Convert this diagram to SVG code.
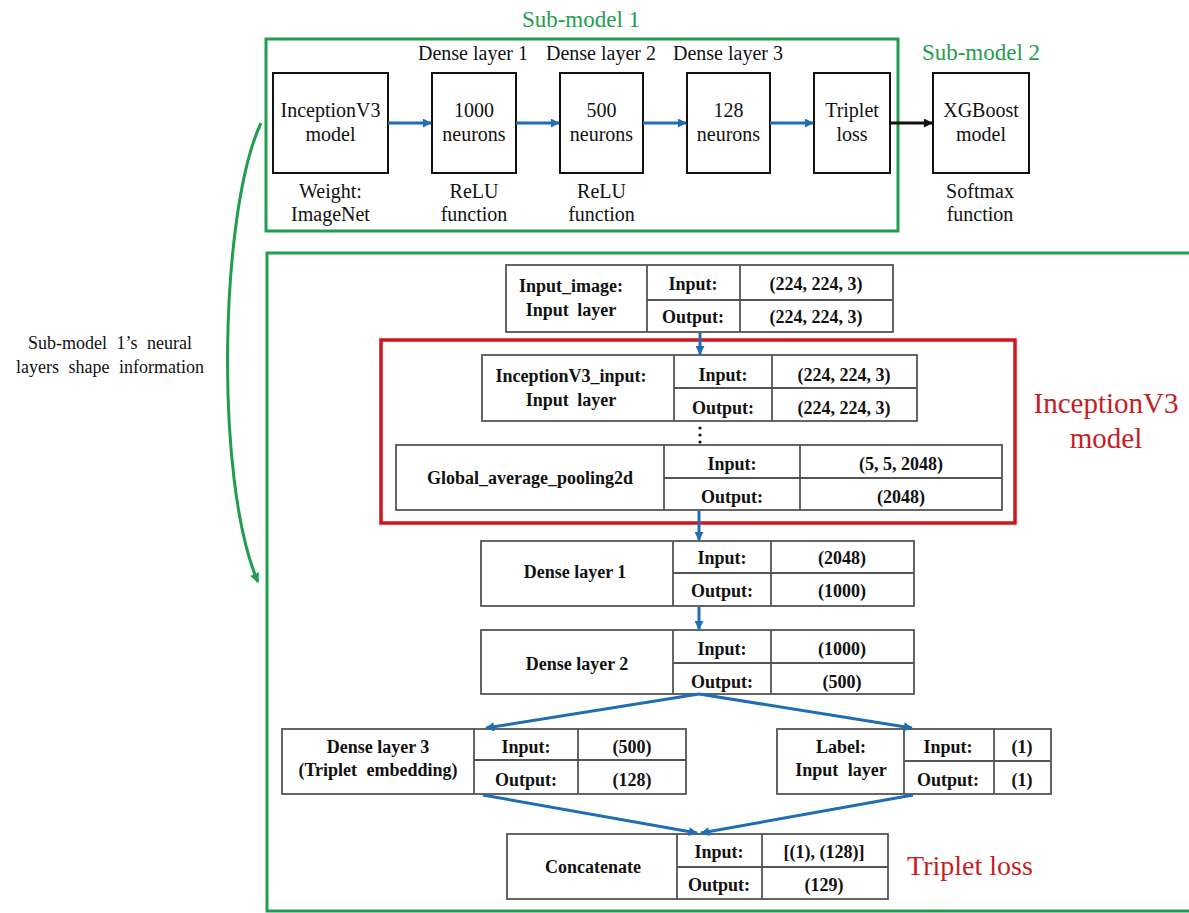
<svg xmlns="http://www.w3.org/2000/svg" width="1189" height="913" viewBox="0 0 1189 913">
<defs>
<style>
.serif{font-family:"Liberation Serif","Times New Roman",serif;}
.g{fill:#1f9e4f;}
.r{fill:#c41e24;}
.box{fill:#fff;stroke:#111;stroke-width:2;}
.tbl{fill:#fff;stroke:#555;stroke-width:1.8;}
.tl{stroke:#555;stroke-width:1.8;}
.t20{font-size:20px;fill:#111;text-anchor:middle;}
.tb{font-size:18px;font-weight:bold;fill:#111;text-anchor:middle;}
.blue{stroke:#1f6db4;stroke-width:3;fill:none;}
</style>
<marker id="ab" viewBox="0 0 10 10" refX="9" refY="5" markerWidth="3.4" markerHeight="3" orient="auto" markerUnits="strokeWidth"><path d="M0,0 L10,5 L0,10 z" fill="#1f6db4"/></marker>
<marker id="ak" viewBox="0 0 10 10" refX="9" refY="5" markerWidth="3.4" markerHeight="3" orient="auto" markerUnits="strokeWidth"><path d="M0,0 L10,5 L0,10 z" fill="#111"/></marker>
<marker id="ag" viewBox="0 0 10 10" refX="9" refY="5" markerWidth="3.6" markerHeight="3.2" orient="auto" markerUnits="strokeWidth"><path d="M0,0 L10,5 L0,10 z" fill="#1f9e4f"/></marker>
</defs>
<rect width="1189" height="913" fill="#fff"/>

<g id="submodel1-frame">
<rect x="266" y="39" width="632" height="192" fill="none" stroke="#1f9e4f" stroke-width="3"/>
<text class="serif g" x="581" y="27" font-size="23" text-anchor="middle">Sub-model 1</text>
</g>
<text class="serif g" x="981" y="60" font-size="23" text-anchor="middle">Sub-model 2</text>

<g id="node-inception" class="serif">
<rect class="box" x="273" y="73" width="115" height="100"/>
<text class="t20" x="330.5" y="117">InceptionV3</text>
<text class="t20" x="330.5" y="141">model</text>
<text class="t20" x="330.5" y="198">Weight:</text>
<text class="t20" x="330.5" y="221">ImageNet</text>
</g>
<g id="node-dense1" class="serif">
<text class="t20" x="473" y="60">Dense layer 1</text>
<rect class="box" x="432" y="73" width="84" height="100"/>
<text class="t20" x="474" y="117">1000</text>
<text class="t20" x="474" y="141">neurons</text>
<text class="t20" x="474" y="198">ReLU</text>
<text class="t20" x="474" y="221">function</text>
</g>
<g id="node-dense2" class="serif">
<text class="t20" x="601" y="60">Dense layer 2</text>
<rect class="box" x="560" y="73" width="83" height="100"/>
<text class="t20" x="601.5" y="117">500</text>
<text class="t20" x="601.5" y="141">neurons</text>
<text class="t20" x="601.5" y="198">ReLU</text>
<text class="t20" x="601.5" y="221">function</text>
</g>
<g id="node-dense3" class="serif">
<text class="t20" x="728" y="60">Dense layer 3</text>
<rect class="box" x="687" y="73" width="83" height="100"/>
<text class="t20" x="728.5" y="117">128</text>
<text class="t20" x="728.5" y="141">neurons</text>
</g>
<g id="node-triplet" class="serif">
<rect class="box" x="814" y="73" width="76" height="100"/>
<text class="t20" x="852" y="117">Triplet</text>
<text class="t20" x="852" y="141">loss</text>
</g>
<g id="node-xgboost" class="serif">
<rect class="box" x="933" y="73" width="96" height="100"/>
<text class="t20" x="981" y="117">XGBoost</text>
<text class="t20" x="981" y="141">model</text>
<text class="t20" x="980" y="198">Softmax</text>
<text class="t20" x="980" y="221">function</text>
</g>

<g id="detail-frame">
<rect x="267" y="253" width="940" height="658" fill="none" stroke="#1f9e4f" stroke-width="3"/>
</g>

<g id="annotation" class="serif">
<text x="110" y="349" font-size="18" fill="#111" text-anchor="middle" word-spacing="5">Sub-model 1’s neural</text>
<text x="110" y="373" font-size="18" fill="#111" text-anchor="middle" word-spacing="5">layers shape information</text>
</g>

<g id="inception-group">
<rect x="381" y="340" width="634" height="183" fill="none" stroke="#d0161c" stroke-width="3.5"/>
<text class="serif r" x="1106" y="413" font-size="29" text-anchor="middle">InceptionV3</text>
<text class="serif r" x="1106" y="448" font-size="29" text-anchor="middle">model</text>
</g>

<g id="tbl-input-image" class="serif">
<rect class="tbl" x="506" y="265" width="387" height="67"/>
<line class="tl" x1="647" y1="265" x2="647" y2="332"/>
<line class="tl" x1="740" y1="265" x2="740" y2="332"/>
<line class="tl" x1="647" y1="300" x2="893" y2="300"/>
<text class="tb" x="571" y="292">Input_image:</text>
<text class="tb" x="571" y="316" word-spacing="4">Input layer</text>
<text class="tb" x="693" y="290">Input:</text>
<text class="tb" x="693" y="323">Output:</text>
<text class="tb" x="816" y="290" font-weight="normal">(224, 224, 3)</text>
<text class="tb" x="816" y="323" font-weight="normal">(224, 224, 3)</text>
</g>

<g id="tbl-inception-input" class="serif">
<rect class="tbl" x="482" y="355" width="435" height="66"/>
<line class="tl" x1="674" y1="355" x2="674" y2="421"/>
<line class="tl" x1="772" y1="355" x2="772" y2="421"/>
<line class="tl" x1="674" y1="388" x2="917" y2="388"/>
<text class="tb" x="571" y="382">InceptionV3_input:</text>
<text class="tb" x="571" y="406" word-spacing="4">Input layer</text>
<text class="tb" x="723" y="381">Input:</text>
<text class="tb" x="723" y="414">Output:</text>
<text class="tb" x="844" y="381" font-weight="normal">(224, 224, 3)</text>
<text class="tb" x="844" y="414" font-weight="normal">(224, 224, 3)</text>
</g>

<g id="ellipsis" fill="#111">
<circle cx="700" cy="428" r="1.6"/>
<circle cx="700" cy="435" r="1.6"/>
<circle cx="700" cy="442" r="1.6"/>
</g>

<g id="tbl-gap" class="serif">
<rect class="tbl" x="396" y="445" width="606" height="65"/>
<line class="tl" x1="664" y1="445" x2="664" y2="510"/>
<line class="tl" x1="800" y1="445" x2="800" y2="510"/>
<line class="tl" x1="664" y1="478" x2="1002" y2="478"/>
<text class="tb" x="530" y="484">Global_average_pooling2d</text>
<text class="tb" x="732" y="470">Input:</text>
<text class="tb" x="732" y="503">Output:</text>
<text class="tb" x="901" y="470">(5, 5, 2048)</text>
<text class="tb" x="901" y="503">(2048)</text>
</g>

<g id="tbl-dense1" class="serif">
<rect class="tbl" x="481" y="541" width="433" height="65"/>
<line class="tl" x1="673" y1="541" x2="673" y2="606"/>
<line class="tl" x1="771" y1="541" x2="771" y2="606"/>
<line class="tl" x1="673" y1="573" x2="914" y2="573"/>
<text class="tb" x="575" y="578" font-size="19">Dense layer 1</text>
<text class="tb" x="722" y="564">Input:</text>
<text class="tb" x="722" y="597">Output:</text>
<text class="tb" x="842" y="564">(2048)</text>
<text class="tb" x="842" y="597">(1000)</text>
</g>

<g id="tbl-dense2" class="serif">
<rect class="tbl" x="481" y="630" width="433" height="64"/>
<line class="tl" x1="673" y1="630" x2="673" y2="694"/>
<line class="tl" x1="771" y1="630" x2="771" y2="694"/>
<line class="tl" x1="673" y1="663" x2="914" y2="663"/>
<text class="tb" x="577" y="670" font-size="22">Dense layer 2</text>
<text class="tb" x="722" y="655">Input:</text>
<text class="tb" x="722" y="688">Output:</text>
<text class="tb" x="842" y="655">(1000)</text>
<text class="tb" x="842" y="688">(500)</text>
</g>

<g id="tbl-dense3" class="serif">
<rect class="tbl" x="282" y="729" width="404" height="65"/>
<line class="tl" x1="474" y1="729" x2="474" y2="794"/>
<line class="tl" x1="578" y1="729" x2="578" y2="794"/>
<line class="tl" x1="474" y1="760" x2="686" y2="760"/>
<text class="tb" x="378" y="753">Dense layer 3</text>
<text class="tb" x="378" y="776" word-spacing="5">(Triplet embedding)</text>
<text class="tb" x="526" y="753">Input:</text>
<text class="tb" x="526" y="786">Output:</text>
<text class="tb" x="632" y="753">(500)</text>
<text class="tb" x="632" y="786">(128)</text>
</g>

<g id="tbl-label" class="serif">
<rect class="tbl" x="777" y="729" width="274" height="65"/>
<line class="tl" x1="904" y1="729" x2="904" y2="794"/>
<line class="tl" x1="994" y1="729" x2="994" y2="794"/>
<line class="tl" x1="904" y1="761" x2="1051" y2="761"/>
<text class="tb" x="841" y="753">Label:</text>
<text class="tb" x="841" y="776" word-spacing="5">Input layer</text>
<text class="tb" x="948" y="753">Input:</text>
<text class="tb" x="948" y="786">Output:</text>
<text class="tb" x="1022" y="753">(1)</text>
<text class="tb" x="1022" y="786">(1)</text>
</g>

<g id="tbl-concat" class="serif">
<rect class="tbl" x="507" y="834" width="381" height="65"/>
<line class="tl" x1="677" y1="834" x2="677" y2="899"/>
<line class="tl" x1="762" y1="834" x2="762" y2="899"/>
<line class="tl" x1="677" y1="867" x2="888" y2="867"/>
<text class="tb" x="593" y="873" font-size="22">Concatenate</text>
<text class="tb" x="719" y="858">Input:</text>
<text class="tb" x="719" y="891">Output:</text>
<text class="tb" x="824" y="858">[(1), (128)]</text>
<text class="tb" x="824" y="891">(129)</text>
</g>

<text class="serif r" x="970" y="875" font-size="28" text-anchor="middle">Triplet loss</text>

<g id="connectors">
<line class="blue" x1="388" y1="123" x2="431" y2="123" marker-end="url(#ab)"/>
<line class="blue" x1="516" y1="123" x2="559" y2="123" marker-end="url(#ab)"/>
<line class="blue" x1="643" y1="123" x2="686" y2="123" marker-end="url(#ab)"/>
<line class="blue" x1="770" y1="123" x2="813" y2="123" marker-end="url(#ab)"/>
<line x1="890" y1="123" x2="932" y2="123" stroke="#111" stroke-width="3" marker-end="url(#ak)"/>
<path d="M261,123 C220,210 214,480 258,582" fill="none" stroke="#1f9e4f" stroke-width="3" marker-end="url(#ag)"/>
<line class="blue" x1="700" y1="333" x2="700" y2="354" marker-end="url(#ab)"/>
<line class="blue" x1="699" y1="511" x2="699" y2="540" marker-end="url(#ab)"/>
<line class="blue" x1="699" y1="607" x2="699" y2="629" marker-end="url(#ab)"/>
<line class="blue" x1="699" y1="694" x2="486" y2="728" marker-end="url(#ab)"/>
<line class="blue" x1="699" y1="694" x2="912" y2="728" marker-end="url(#ab)"/>
<line class="blue" x1="483" y1="795" x2="697" y2="833" marker-end="url(#ab)"/>
<line class="blue" x1="913" y1="795" x2="701" y2="833" marker-end="url(#ab)"/>
</g>
</svg>
